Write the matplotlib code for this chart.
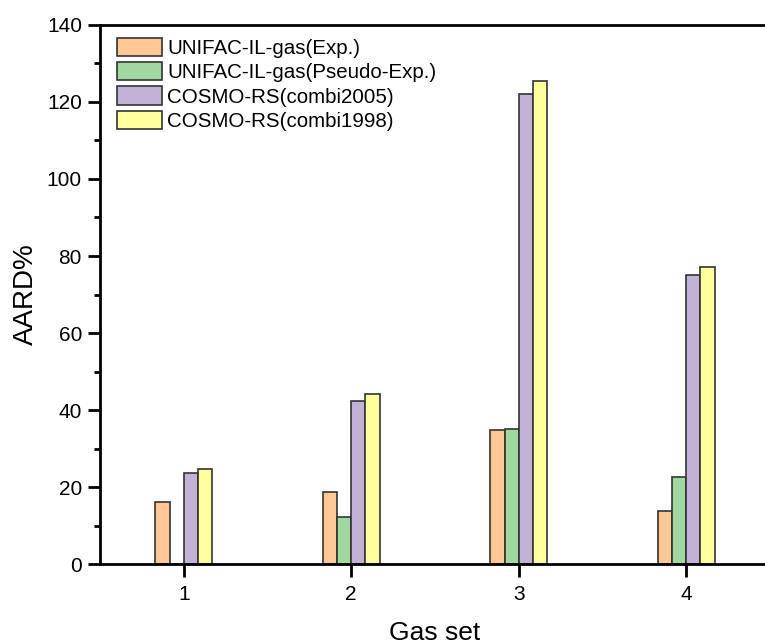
import numpy as np
import matplotlib
matplotlib.use("Agg")
import matplotlib.pyplot as plt
from matplotlib.ticker import MultipleLocator

plt.rcParams['font.family'] = ['Liberation Sans', 'DejaVu Sans']

gas_sets = [1, 2, 3, 4]
series_names = ["UNIFAC-IL-gas(Exp.)", "UNIFAC-IL-gas(Pseudo-Exp.)",
                "COSMO-RS(combi2005)", "COSMO-RS(combi1998)"]
unifac_exp = [16.2, 18.8, 34.8, 13.9]
unifac_pseudo = [0.0, 12.3, 35.1, 22.6]
cosmo_2005 = [23.6, 42.3, 122.0, 75.1]
cosmo_1998 = [24.7, 44.1, 125.3, 77.1]
colors = ["#FDC896", "#A0D8A0", "#C2B2D8", "#FFFF9E"]

fig = plt.figure(figsize=(7.65, 6.44), dpi=100)
ax = fig.add_axes([100 / 765, 79.7 / 644, 670 / 765, 539.5 / 644])

x = np.array(gas_sets, dtype=float)
w = 0.085
all_series = [unifac_exp, unifac_pseudo, cosmo_2005, cosmo_1998]
for i, (vals, name, c) in enumerate(zip(all_series, series_names, colors)):
    ax.bar(x + (i - 1.5) * w, vals, width=w, color=c, edgecolor="#333333",
           linewidth=1.2, label=name)

ax.set_xlim(0.5, 4.5)
ax.set_ylim(0, 140)
ax.set_xticks(gas_sets)
ax.yaxis.set_major_locator(MultipleLocator(20))
ax.yaxis.set_minor_locator(MultipleLocator(10))

for s in ax.spines.values():
    s.set_linewidth(2)
ax.tick_params(axis="both", which="major", direction="out", length=9, width=2,
               labelsize=15, pad=4)
ax.tick_params(axis="y", which="minor", direction="out", length=4.5, width=2)
ax.tick_params(axis="x", which="major", pad=6)

ax.set_ylabel("AARD%", fontsize=20, labelpad=6)
ax.set_xlabel("Gas set", fontsize=19, labelpad=12)

ax.legend(loc="upper left", bbox_to_anchor=(0.025, 0.976), frameon=False,
          fontsize=14.8, borderaxespad=0, borderpad=0, handlelength=2.2,
          handleheight=1.0, labelspacing=0.2, handletextpad=0.25)

fig.savefig("out.png", dpi=100)
